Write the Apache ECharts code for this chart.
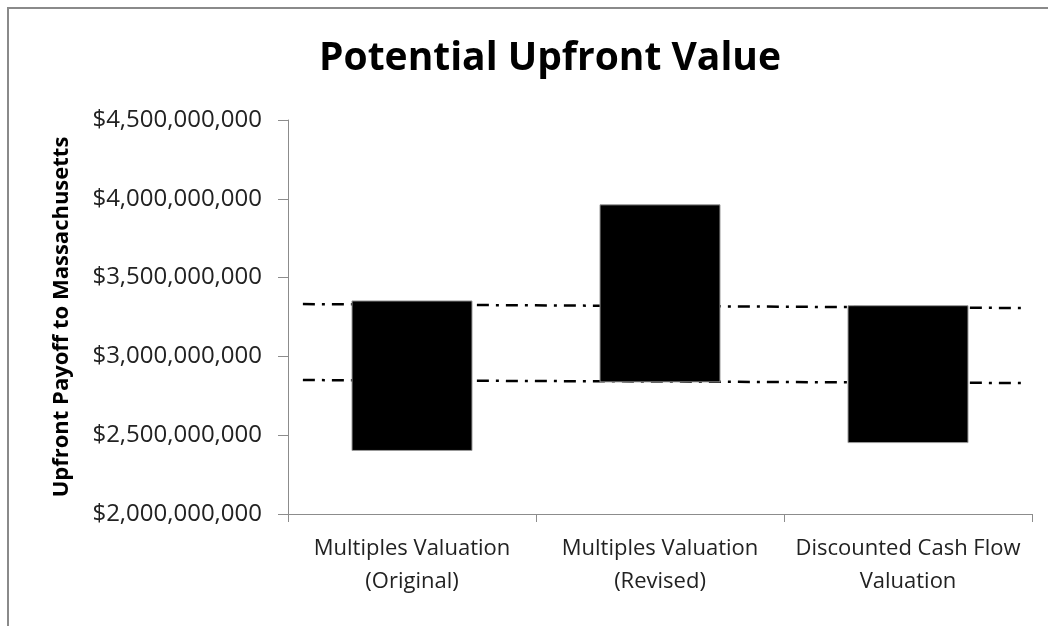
<!DOCTYPE html>
<html>
<head>
<meta charset="utf-8">
<script src="https://cdn.jsdelivr.net/npm/echarts@6/dist/echarts.min.js"></script>
<style>
  html, body { margin: 0; padding: 0; background: #fff; }
  #chart { width: 1048px; height: 626px; }
</style>
</head>
<body>
<div id="chart"></div>
<script>
// data
var categories = ['Multiples Valuation\n(Original)', 'Multiples Valuation\n(Revised)', 'Discounted Cash Flow\nValuation']
var lowValues = [2.400e9, 2.835e9, 2.450e9]
var highValues = [3.355e9, 3.965e9, 3.325e9]
// dash-dot reference lines, [position along axis 0..1, value]
var upperLine = [[0.02, 3.332e9], [0.985, 3.307e9]]
var lowerLine = [[0.02, 2.850e9], [0.985, 2.831e9]]
var yTicks = { min: 2.0e9, max: 4.5e9, step: 5e8 }

var spans = highValues.map(function (h, i) { return h - lowValues[i] })

function money(v) {
  return '$' + Math.round(v).toString().replace(/\B(?=(\d{3})+(?!\d))/g, ',')
}

var chart = echarts.init(document.getElementById('chart'))
var axisGray = '#8c8c8c'
var dashDot = [12, 7, 3, 7]

chart.setOption({
  animation: false,
  title: {
    text: 'Potential Upfront Value',
    left: 545,
    top: 34,
    textAlign: 'center',
    textStyle: {
      fontFamily: 'Open Sans',
      fontWeight: 'bold',
      fontSize: 39,
      color: '#000'
    }
  },
  graphic: [{
    type: 'rect',
    silent: true,
    shape: { x: 8, y: 8, width: 1200, height: 800 },
    style: { fill: 'none', stroke: '#8a8a8a', lineWidth: 2 }
  }],
  grid: { left: 288, right: 16, top: 120, bottom: 112 },
  xAxis: [{
    type: 'category',
    data: categories,
    boundaryGap: true,
    axisLine: { lineStyle: { color: axisGray, width: 1 } },
    axisTick: { show: true, length: 8, lineStyle: { color: axisGray } },
    axisLabel: {
      fontFamily: 'Open Sans',
      fontSize: 22,
      color: '#222',
      lineHeight: 33,
      margin: 18,
      interval: 0
    }
  }, {
    type: 'value',
    min: 0,
    max: 1,
    show: false
  }],
  yAxis: {
    type: 'value',
    min: yTicks.min,
    max: yTicks.max,
    interval: yTicks.step,
    name: 'Upfront Payoff to Massachusetts',
    nameLocation: 'middle',
    nameGap: 215,
    nameTextStyle: {
      fontFamily: 'Open Sans',
      fontWeight: 'bold',
      fontSize: 22,
      color: '#000'
    },
    axisLine: { show: true, lineStyle: { color: axisGray, width: 1 } },
    axisTick: { show: true, length: 10, lineStyle: { color: axisGray } },
    splitLine: { show: false },
    axisLabel: {
      fontFamily: 'Open Sans',
      fontSize: 24,
      color: '#222',
      margin: 26,
      formatter: money
    }
  },
  series: [{
    type: 'bar',
    stack: 'range',
    data: lowValues,
    barWidth: 121,
    itemStyle: { color: 'transparent' },
    silent: true
  }, {
    type: 'bar',
    stack: 'range',
    data: spans,
    barWidth: 121,
    itemStyle: { color: '#000', borderColor: '#9a9a9a', borderWidth: 1 }
  }, {
    type: 'line',
    xAxisIndex: 1,
    data: upperLine,
    symbol: 'none',
    z: 1,
    lineStyle: { color: '#000', width: 2.5, type: dashDot }
  }, {
    type: 'line',
    xAxisIndex: 1,
    data: lowerLine,
    symbol: 'none',
    z: 1,
    lineStyle: { color: '#000', width: 2.5, type: dashDot }
  }]
})
</script>
</body>
</html>
